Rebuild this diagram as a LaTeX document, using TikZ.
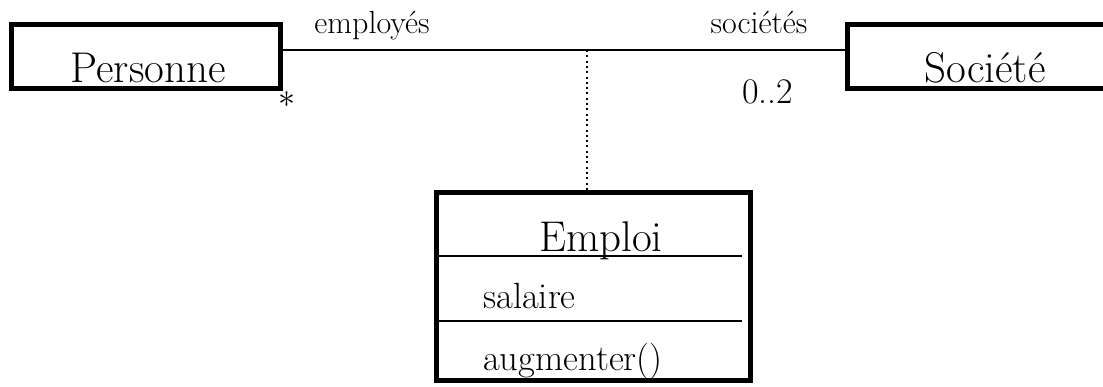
\documentclass[tikz,border=0pt]{standalone}
\begin{document}
\begin{tikzpicture}[x=1pt,y=-1pt,
  classbox/.style={draw, line width=5pt, rectangle, inner sep=0pt},
  titletext/.style={font=\fontsize{43}{43}\selectfont, inner sep=0pt, anchor=base},
  membertext/.style={font=\fontsize{36.5}{36.5}\selectfont, inner sep=0pt, anchor=base west},
  roletext/.style={font=\fontsize{32}{32}\selectfont, inner sep=0pt, anchor=base},
  multtext/.style={font=\fontsize{36}{36}\selectfont, inner sep=0pt},
  assoc/.style={line width=2pt},
  assocclass/.style={line width=2pt, dash pattern=on 2pt off 3.3pt},
  sepline/.style={line width=2pt}]
\useasboundingbox (0,0) rectangle (1103,386);
\clip (0,0) rectangle (1103,386);
% class boxes
\node[classbox, minimum width=269pt, minimum height=64pt] (personne) at (146,56.5) {};
\node[classbox, minimum width=305pt, minimum height=64pt] (societe) at (1000,56.5) {};
\node[classbox, minimum width=314pt, minimum height=188pt] (emploi) at (593.5,286.5) {};
% titles
\node[titletext] (personneT) at (148,82) {Personne};
\node[titletext] (societeT) at (985,82) {Société};
\node[titletext] (emploiT) at (601,251) {Emploi};
% compartments
\coordinate (s1a) at (437,256);
\coordinate (s1b) at (742,256);
\coordinate (s2a) at (437,321);
\coordinate (s2b) at (742,321);
\draw[sepline] (s1a) -- (s1b);
\draw[sepline] (s2a) -- (s2b);
\node[membertext] (salaire) at (483,308) {salaire};
\node[membertext] (augm) at (483,370) {augmenter()};
% association
\coordinate (pE) at (283,50);
\coordinate (sW) at (845,50);
\draw[assoc] (pE) -- (sW);
\coordinate (mid) at (587,50);
\coordinate (eN) at (587,190);
\draw[assocclass] (mid) -- (eN);
% labels
\node[roletext] (employes) at (372,33) {employés};
\node[roletext] (societes) at (759,33) {sociétés};
\node[multtext, anchor=base west] (mult2) at (742,103) {0..2};
\node[scale=3.4, inner sep=0pt] (mult1) at (287,100) {$\ast$};
\end{tikzpicture}
\end{document}
